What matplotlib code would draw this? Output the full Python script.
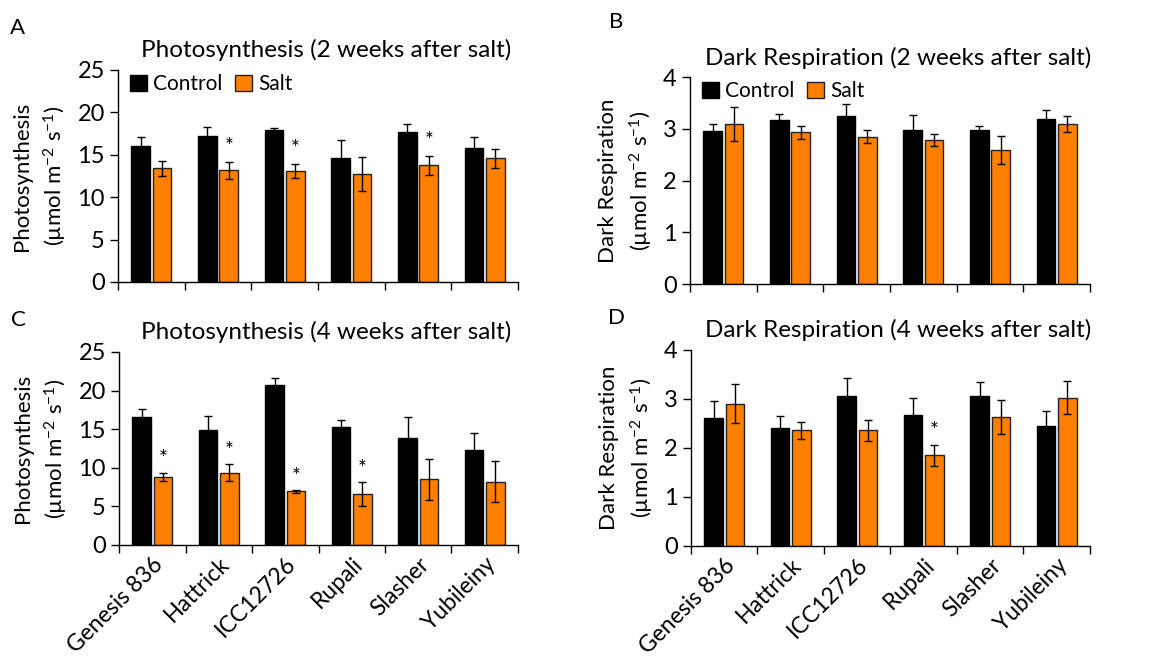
import matplotlib
matplotlib.use("Agg")
import matplotlib.pyplot as plt
import numpy as np

plt.rcParams['font.family'] = ['Lato', 'DejaVu Sans']
plt.rcParams['mathtext.fontset'] = 'custom'
plt.rcParams['mathtext.rm'] = 'Lato'
plt.rcParams['mathtext.it'] = 'Lato:italic'
plt.rcParams['mathtext.bf'] = 'Lato:bold'

cultivars = ['Genesis 836', 'Hattrick', 'ICC12726', 'Rupali', 'Slasher', 'Yubileiny']

# A: photosynthesis, 2 weeks
ps2_ctrl = [16.05, 17.27, 17.9, 14.67, 17.74, 15.8]
ps2_ctrl_err = [1.1, 1.05, 0.3, 2.1, 0.85, 1.25]
ps2_salt = [13.4, 13.2, 13.1, 12.74, 13.76, 14.6]
ps2_salt_err = [0.9, 1.0, 0.8, 2.05, 1.1, 1.1]
ps2_sig = [False, True, True, False, True, False]

# B: dark respiration, 2 weeks
dr2_ctrl = [2.95, 3.17, 3.24, 2.97, 2.98, 3.18]
dr2_ctrl_err = [0.15, 0.12, 0.23, 0.3, 0.08, 0.18]
dr2_salt = [3.10, 2.93, 2.85, 2.78, 2.59, 3.09]
dr2_salt_err = [0.33, 0.13, 0.12, 0.12, 0.27, 0.16]
dr2_sig = [False] * 6

# C: photosynthesis, 4 weeks
ps4_ctrl = [16.55, 14.87, 20.78, 15.3, 13.8, 12.33]
ps4_ctrl_err = [1.08, 1.9, 0.86, 0.95, 2.75, 2.2]
ps4_salt = [8.84, 9.35, 6.94, 6.6, 8.53, 8.19]
ps4_salt_err = [0.51, 1.08, 0.17, 1.5, 2.67, 2.63]
ps4_sig = [True, True, True, True, False, False]

# D: dark respiration, 4 weeks
dr4_ctrl = [2.62, 2.41, 3.06, 2.68, 3.06, 2.44]
dr4_ctrl_err = [0.33, 0.24, 0.36, 0.35, 0.29, 0.31]
dr4_salt = [2.90, 2.36, 2.36, 1.85, 2.63, 3.03]
dr4_salt_err = [0.40, 0.18, 0.22, 0.22, 0.35, 0.34]
dr4_sig = [False, False, False, True, False, False]

ORANGE = '#FF8000'


def draw_panel(ax, ctrl, ctrl_err, salt, salt_err, sig, ymax, step, title, ylabel,
               show_xlabels, legend):
    x = np.arange(len(cultivars))
    w = 0.28
    ekw = dict(elinewidth=1, capthick=1, ecolor='black')
    ax.bar(x - 0.16, ctrl, w, yerr=ctrl_err, color='black', edgecolor='black',
           linewidth=1, capsize=3, error_kw=ekw, label='Control')
    ax.bar(x + 0.16, salt, w, yerr=salt_err, color=ORANGE, edgecolor='#222222',
           linewidth=1, capsize=3, error_kw=ekw, label='Salt')
    for i in range(len(cultivars)):
        if sig[i]:
            ax.text(x[i] + 0.16, salt[i] + salt_err[i] + 0.07 * ymax, '*',
                    ha='center', va='center', fontsize=15)
    ax.set_xlim(-0.5, len(cultivars) - 0.5)
    ax.set_ylim(0, ymax)
    ax.set_yticks(np.arange(0, ymax + 0.01, step))
    ax.set_xticks(x)
    ax.set_xticks(np.arange(-0.5, len(cultivars)), minor=True)
    ax.tick_params(axis='x', which='major', length=0, labelsize=16.5, pad=6)
    ax.tick_params(axis='x', which='minor', length=6, width=1, direction='out')
    ax.tick_params(axis='y', length=6, width=1, direction='out', labelsize=17)
    if show_xlabels:
        ax.set_xticklabels(cultivars, rotation=45, ha='right', va='top',
                           rotation_mode='anchor')
    else:
        ax.set_xticklabels([])
    for s in ['top', 'right']:
        ax.spines[s].set_visible(False)
    ax.spines['left'].set_linewidth(1)
    ax.spines['bottom'].set_linewidth(1)
    ax.set_title(title, fontsize=17.5, x=0.52, pad=9)
    ax.set_ylabel(ylabel, fontsize=16, linespacing=1.45, labelpad=6)
    if legend:
        ax.legend(loc='upper left', bbox_to_anchor=(0.02, 1.0), ncol=2,
                  frameon=False, fontsize=15,
                  handlelength=0.8, handleheight=0.8, handletextpad=0.3,
                  columnspacing=0.6, borderaxespad=0.1, borderpad=0.1)


fig = plt.figure(figsize=(11.58, 6.59), dpi=100)
axA = fig.add_axes([0.1019, 0.5721, 0.3454, 0.3217])
axB = fig.add_axes([0.5959, 0.5690, 0.3454, 0.3141])
axC = fig.add_axes([0.1028, 0.1730, 0.3445, 0.2929])
axD = fig.add_axes([0.5967, 0.1715, 0.3445, 0.2974])

ps_label = 'Photosynthesis\n(µmol m$^{-2}$ s$^{-1}$)'
dr_label = 'Dark Respiration\n(µmol m$^{-2}$ s$^{-1}$)'

draw_panel(axA, ps2_ctrl, ps2_ctrl_err, ps2_salt, ps2_salt_err, ps2_sig, 25, 5,
           'Photosynthesis (2 weeks after salt)', ps_label, False, True)
draw_panel(axB, dr2_ctrl, dr2_ctrl_err, dr2_salt, dr2_salt_err, dr2_sig, 4, 1,
           'Dark Respiration (2 weeks after salt)', dr_label, False, True)
draw_panel(axC, ps4_ctrl, ps4_ctrl_err, ps4_salt, ps4_salt_err, ps4_sig, 25, 5,
           'Photosynthesis (4 weeks after salt)', ps_label, True, False)
draw_panel(axD, dr4_ctrl, dr4_ctrl_err, dr4_salt, dr4_salt_err, dr4_sig, 4, 1,
           'Dark Respiration (4 weeks after salt)', dr_label, True, False)

for lab, px, py in [('A', 18, 28), ('B', 616, 22), ('C', 18, 320), ('D', 616, 318)]:
    fig.text(px / 1158, 1 - py / 659, lab, fontsize=16, ha='center', va='center')

fig.savefig('out.png', dpi=100)
